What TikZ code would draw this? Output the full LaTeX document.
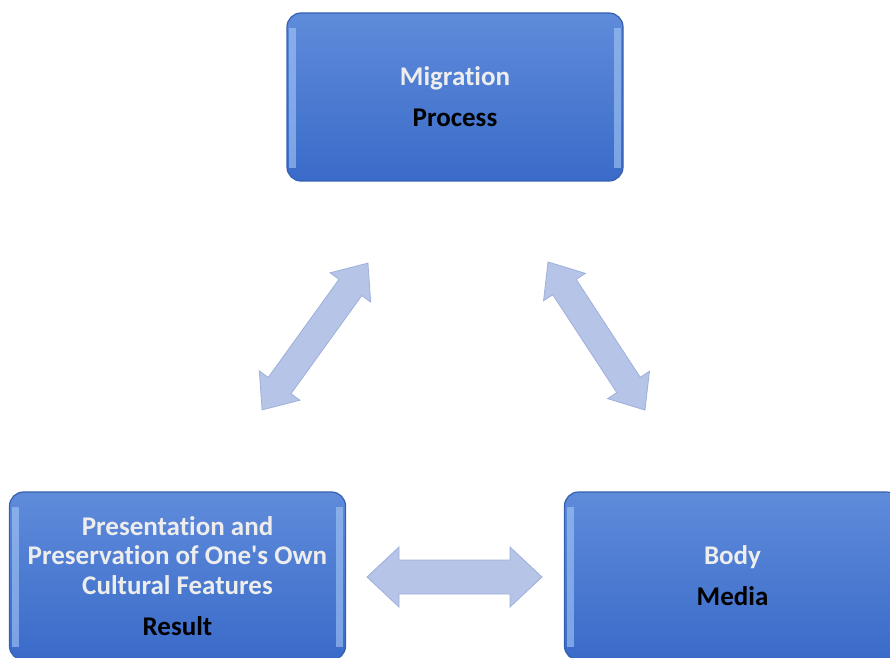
\documentclass[tikz,border=0pt]{standalone}
\usepackage{fontspec}
\setmainfont{Carlito}[Ligatures={TeXOff,NoCommon}]
\usetikzlibrary{positioning,calc}

\definecolor{boxtop}{HTML}{5F8BDA}
\definecolor{boxbot}{HTML}{3A6BC9}
\definecolor{boxedge}{HTML}{3560B2}
\definecolor{boxshine}{HTML}{A6C8F6}
\definecolor{arrfill}{HTML}{B5C4E7}
\definecolor{arredge}{HTML}{9EB0DB}
\definecolor{capgrey}{HTML}{EDEDED}

\begin{document}
\begin{tikzpicture}[x=1pt,y=1pt,
  stage/.style={rounded corners=14pt,top color=boxtop,bottom color=boxbot,
    draw=boxedge,line width=1.2pt,minimum width=336pt,minimum height=168pt,
    align=center,inner sep=0pt,font=\bfseries\fontsize{27}{29.5}\selectfont},
  shine/.style={boxshine,opacity=.6},
  pics/twoway/.style n args={4}{code={
    \filldraw[arrfill,draw=arredge,line width=0.8pt]
      ({-#1/2},0) -- ({-#1/2+#4},#2) -- ({-#1/2+#4},#3) -- ({#1/2-#4},#3)
      -- ({#1/2-#4},#2) -- ({#1/2},0) -- ({#1/2-#4},-#2) -- ({#1/2-#4},-#3)
      -- ({-#1/2+#4},-#3) -- ({-#1/2+#4},-#2) -- cycle;}}]
\useasboundingbox (0,0) rectangle (890,657);
\clip (0,0) rectangle (890,657);

% --- the three stages ---
\node[stage] (mig) at (455,560)
  {\textcolor{capgrey}{Migration}\\[11.5pt]Process};
\node[stage] (res) at (177.5,81)
  {\textcolor{capgrey}{Presentation and}\\
   \textcolor{capgrey}{Preservation of One's Own}\\
   \textcolor{capgrey}{Cultural Features}\\[11.5pt]Result};
\node[stage] (body) at (732.5,81)
  {\textcolor{capgrey}{Body}\\[11.5pt]Media};

% --- bevel highlights on the side edges ---
\foreach \n in {mig,res,body}{
  \fill[shine] ([xshift=3pt,yshift=-16pt]\n.north west) rectangle ([xshift=10pt,yshift=14pt]\n.south west);
  \fill[shine] ([xshift=-10pt,yshift=-16pt]\n.north east) rectangle ([xshift=-3pt,yshift=14pt]\n.south east);
}

% --- two-way arrows between the stages ---
\pic[rotate=54.2] (migres) at (315,320.5) {twoway={181}{25}{14}{30}};
\pic[rotate=-56.8] (migbody) at (596.5,321) {twoway={177}{25}{14}{30}};
\pic (resbody) at (454.5,80) {twoway={175}{30}{17}{32}};
\end{tikzpicture}
\end{document}
